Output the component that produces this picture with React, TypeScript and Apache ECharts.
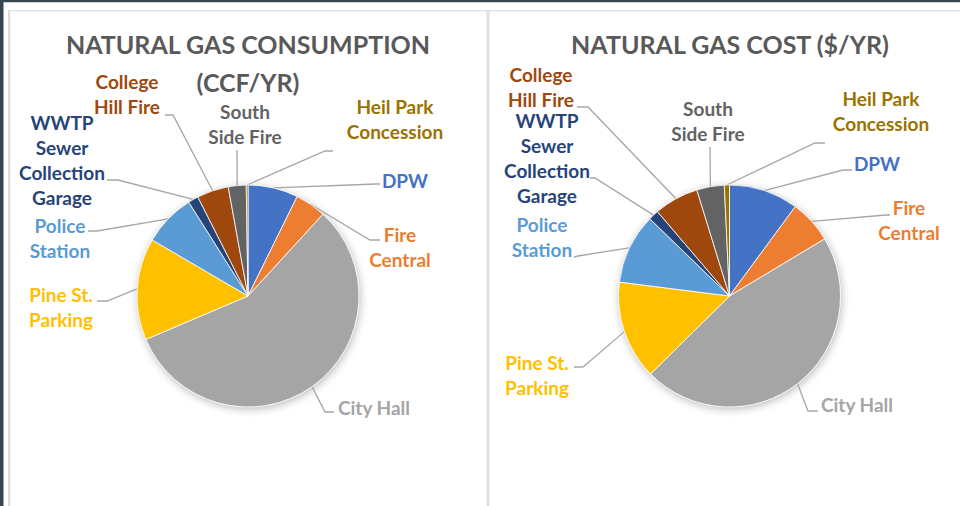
import React, { useEffect, useRef } from "react";
import * as echarts from "echarts";

// ---------- data ----------
const categories = [
  "DPW",
  "Fire Central",
  "City Hall",
  "Pine St. Parking",
  "Police Station",
  "WWTP Sewer Collection Garage",
  "College Hill Fire",
  "South Side Fire",
  "Heil Park Concession",
];
const labelTexts = [
  "DPW",
  "Fire\nCentral",
  "City Hall",
  "Pine St.\nParking",
  "Police\nStation",
  "WWTP\nSewer\nCollection\nGarage",
  "College\nHill Fire",
  "South\nSide Fire",
  "Heil Park\nConcession",
];
const consumptionCCF = [4380, 2700, 34020, 8880, 4560, 900, 2760, 1560, 150];
const costDollars = [5050, 3150, 23100, 7200, 5125, 750, 3250, 2000, 375];
const sliceColors = [
  "#4472C4",
  "#ED7D31",
  "#A5A5A5",
  "#FFC000",
  "#5B9BD5",
  "#264478",
  "#9E480E",
  "#636363",
  "#997300",
];
const titles = ["NATURAL GAS CONSUMPTION\n(CCF/YR)", "NATURAL GAS COST ($/YR)"];

// ---------- layout (label centres and leader-line bends) ----------
const leftLayout = {
  center: [248, 296],
  titleX: 248,
  labels: [
    [405, 180], [400, 247], [374, 407], [61, 307], [60, 238],
    [62, 160], [127, 94], [245, 124], [395, 119],
  ],
  guides: [
    [[376, 184], [380, 184]],
    [[370, 240], [380, 240]],
    [[325, 412], [334, 412]],
    [[107, 301], [97, 301]],
    [[97, 231], [88, 231]],
    [[118, 180], [107, 180]],
    [[173, 115], [165, 115]],
    [[237, 152], [237, 150]],
    [[325, 151], [333, 151]],
  ],
};
const rightLayout = {
  center: [729.5, 296],
  titleX: 730,
  labels: [
    [877, 163], [909, 220], [857, 404], [537, 375], [542, 237],
    [547, 158], [541, 87], [708, 121], [881, 111],
  ],
  guides: [
    [[843, 170], [852, 170]],
    [[886, 215], [890, 215]],
    [[808, 411], [818, 411]],
    [[583, 367], [574, 367]],
    [[578, 256], [574, 257]],
    [[595, 178], [590, 178]],
    [[588, 107], [577, 107]],
    [[710, 149], [710, 147]],
    [[815, 143], [825, 143]],
  ],
};

const FONT = "Lato, 'Open Sans', sans-serif";
const RADIUS = 111;

function shadowSeries(center: number[]) {
  return {
    type: "pie",
    center,
    radius: RADIUS,
    silent: true,
    z: 1,
    label: { show: false },
    labelLine: { show: false },
    itemStyle: {
      color: "#ffffff",
      shadowBlur: 8,
      shadowColor: "rgba(0,0,0,0.28)",
      shadowOffsetX: 1,
      shadowOffsetY: 2,
    },
    data: [{ value: 1, name: "bg" }],
  };
}

function pieSeries(values: number[], layout: any) {
  return {
    type: "pie",
    center: layout.center,
    radius: RADIUS,
    startAngle: 90,
    clockwise: true,
    z: 2,
    avoidLabelOverlap: false,
    minShowLabelAngle: 0,
    itemStyle: { borderColor: "#ffffff", borderWidth: 0.8 },
    emphasis: { disabled: true },
    label: {
      show: true,
      position: "outside",
      fontFamily: FONT,
      fontWeight: "bold",
      fontSize: 19,
      lineHeight: 25,
      align: "center",
      formatter: (p: any) => labelTexts[p.dataIndex],
    },
    labelLine: {
      show: true,
      smooth: false,
      lineStyle: { color: "#A6A6A6", width: 1.3 },
    },
    labelLayout: (p: any) => {
      const i = p.dataIndex;
      const pos = layout.labels[i];
      const guide = layout.guides[i];
      const start = p.labelLinePoints && p.labelLinePoints[0];
      const out: any = {
        x: pos[0],
        y: pos[1],
        align: "center",
        verticalAlign: "middle",
      };
      if (start) out.labelLinePoints = [[start[0], start[1]], guide[0], guide[1]];
      return out;
    },
    data: values.map((v, i) => ({
      value: v,
      name: categories[i],
      itemStyle: { color: sliceColors[i] },
      label: { color: sliceColors[i] },
    })),
  };
}

export default function App() {
  const ref = useRef<HTMLDivElement>(null);
  useEffect(() => {
    if (!ref.current) return;
    const chart = echarts.init(ref.current, undefined, { renderer: "svg" });
    const titleStyle = {
      fontFamily: FONT,
      fontWeight: "bold",
      fontSize: 25,
      lineHeight: 38,
      color: "#595959",
    };
    chart.setOption({
      animation: false,
      backgroundColor: "#ffffff",
      title: [
        { text: titles[0], left: leftLayout.titleX, top: 25, textAlign: "center", padding: 0, textStyle: titleStyle },
        { text: titles[1], left: rightLayout.titleX, top: 25, textAlign: "center", padding: 0, textStyle: titleStyle },
      ],
      graphic: [
        { type: "rect", silent: true, z: -10, shape: { x: 0, y: 0, width: 960, height: 2.3 }, style: { fill: "#37474F" } },
        { type: "rect", silent: true, z: -10, shape: { x: 0, y: 0, width: 3.5, height: 506 }, style: { fill: "#37474F" } },
        { type: "rect", silent: true, z: -10, shape: { x: 8, y: 10, width: 952, height: 1.5 }, style: { fill: "#E4E4E4" } },
        { type: "rect", silent: true, z: -10, shape: { x: 8, y: 10, width: 2.2, height: 496 }, style: { fill: "#DCDCDC" } },
        { type: "rect", silent: true, z: -10, shape: { x: 486.5, y: 10, width: 3, height: 496 }, style: { fill: "#E0E0E0" } },
      ],
      series: [
        shadowSeries(leftLayout.center),
        shadowSeries(rightLayout.center),
        pieSeries(consumptionCCF, leftLayout),
        pieSeries(costDollars, rightLayout),
      ],
    });
    return () => chart.dispose();
  }, []);
  return (
    <div
      ref={ref}
      style={{ position: "absolute", left: 0, top: 0, width: 960, height: 506 }}
    />
  );
}
